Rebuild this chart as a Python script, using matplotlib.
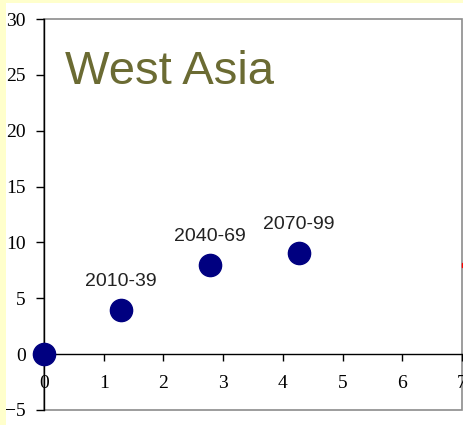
import matplotlib
matplotlib.use("Agg")
import matplotlib.pyplot as plt
from matplotlib.patches import Rectangle

# Data
x_vals = [0.0, 1.29, 2.78, 4.27]
y_vals = [0.0, 3.95, 8.0, 9.05]
labels = ["", "2010-39", "2040-69", "2070-99"]
red_x = [7.04]
red_y = [8.0]
x_ticks = [0, 1, 2, 3, 4, 5, 6, 7]
y_ticks = [-5, 0, 5, 10, 15, 20, 25, 30]
title = "West Asia"

fig = plt.figure(figsize=(4.64, 4.25), dpi=100, facecolor="white")
# yellow slide background strips
fig.patches.append(Rectangle((0, 0), 6/464, 1, transform=fig.transFigure,
                             facecolor="#FFFFCC", edgecolor="none", zorder=0))
fig.patches.append(Rectangle((0, 1 - 3/425), 1, 3/425, transform=fig.transFigure,
                             facecolor="#FFFFCC", edgecolor="none", zorder=0))

ax = fig.add_axes([44/464, 1 - 410/425, (462-44)/464, (410-19)/425])
ax.set_xlim(0, 7)
ax.set_ylim(-5, 30)

# frame
ax.add_patch(Rectangle((0, 0), 1, 1, transform=ax.transAxes, fill=False,
                       edgecolor="#8C8C8C", linewidth=1.2, zorder=0, clip_on=False))
ax.spines["top"].set_visible(False)
ax.spines["right"].set_visible(False)
ax.spines["left"].set_color("black")
ax.spines["left"].set_linewidth(1.0)
ax.spines["bottom"].set_position(("data", 0))
ax.spines["bottom"].set_color("black")
ax.spines["bottom"].set_linewidth(1.0)

ax.set_xticks(x_ticks)
ax.set_yticks(y_ticks)
ax.tick_params(axis="x", direction="out", length=5, width=1, pad=10,
               labelsize=14, colors="black")
ax.tick_params(axis="y", direction="out", length=6, width=1, pad=7,
               labelsize=14, colors="black")
for lab in ax.get_xticklabels() + ax.get_yticklabels():
    lab.set_fontfamily("Liberation Serif")

ax.plot(x_vals, y_vals, linestyle="none", marker="o", markersize=16,
        color="#000080", clip_on=False, zorder=5)
ax.plot(red_x, red_y, linestyle="none", marker="s", markersize=3,
        color="red", clip_on=False, zorder=5)

for xv, yv, lb in zip(x_vals, y_vals, labels):
    if lb:
        ax.annotate(lb, (xv, yv), xytext=(0, 20.5), textcoords="offset points",
                    ha="center", va="center", fontsize=14,
                    family="Liberation Sans", color="#222222")

ax.text(0.05, 0.864, title, transform=ax.transAxes, fontsize=34,
        family="Liberation Sans", color="#6B6B33", ha="left", va="center")

fig.savefig("out.png", dpi=100, facecolor="white")
